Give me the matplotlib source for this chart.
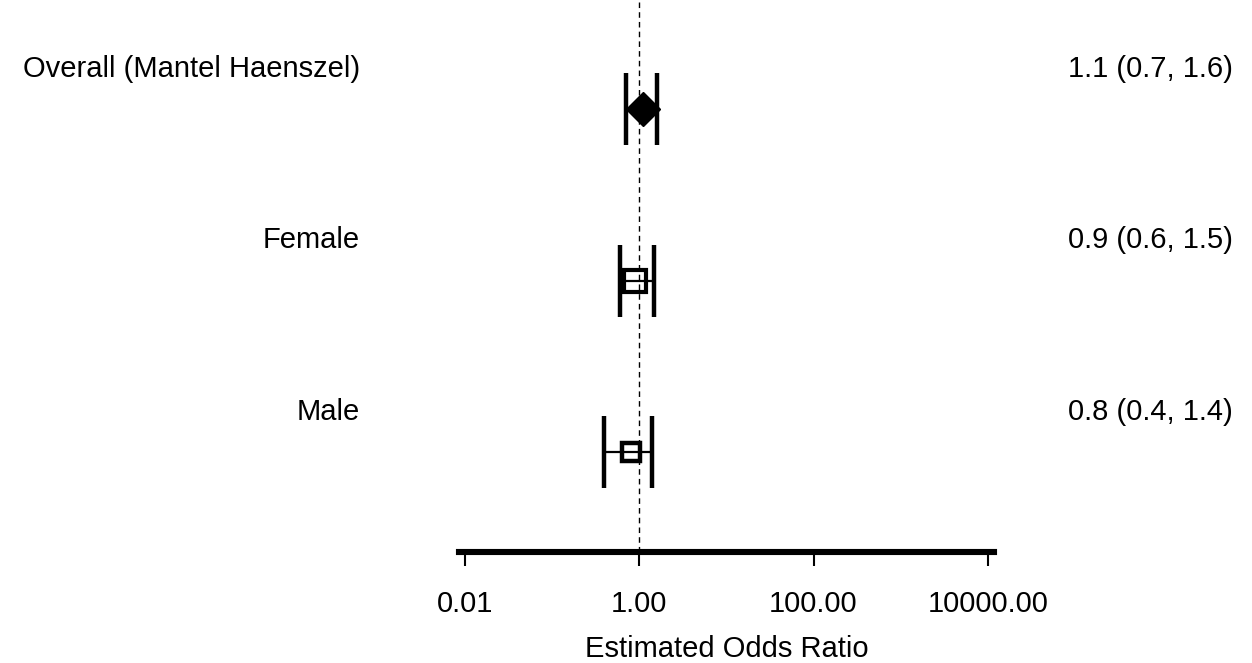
import matplotlib
matplotlib.use("Agg")
import matplotlib.pyplot as plt
import matplotlib.transforms as mtransforms

plt.rcParams['font.family'] = ['Liberation Sans', 'DejaVu Sans']

groups = ["Overall (Mantel Haenszel)", "Female", "Male"]
odds = [1.1, 0.9, 0.8]
lower = [0.7, 0.6, 0.4]
upper = [1.6, 1.5, 1.4]
ci_text = ["1.1 (0.7, 1.6)", "0.9 (0.6, 1.5)", "0.8 (0.4, 1.4)"]
ypos = [3, 2, 1]
xticks = [0.01, 1, 100, 10000]
xticklabels = ["0.01", "1.00", "100.00", "10000.00"]

fig = plt.figure(figsize=(12.52, 6.63), dpi=100)
ax = fig.add_axes([459.5 / 1252, 111 / 663, 534.5 / 1252, 552 / 663])
ax.set_xscale("log")
ax.set_xlim(10 ** -2.06, 10 ** 4.07)
ax.set_ylim(0.417, 3.636)

# reference line at OR = 1
ax.axvline(1, color="black", lw=1, ls=(0, (4, 3)), zorder=1)

cap_h = 0.21
for i in range(len(groups)):
    y = ypos[i]
    ax.plot([lower[i], upper[i]], [y, y], color="black", lw=1.6, zorder=2)
    ax.vlines([lower[i], upper[i]], y - cap_h, y + cap_h, color="black", lw=3.2, zorder=2)
    if i == 0:
        ax.plot(odds[i], y, marker="D", ms=17, color="black", zorder=3)
    elif i == 1:
        ax.plot(odds[i], y, marker="s", ms=16.5, mfc="none", mec="black", mew=3, zorder=3)
    else:
        ax.plot(odds[i], y, marker="s", ms=12.5, mfc="none", mec="black", mew=3.2, zorder=3)

# labels on both sides
trans = mtransforms.blended_transform_factory(fig.transFigure, ax.transData)
for i in range(len(groups)):
    ax.text(360 / 1252, ypos[i] + 0.235, groups[i], transform=trans,
            ha="right", va="center", fontsize=21, clip_on=False)
    ax.text(1068 / 1252, ypos[i] + 0.235, ci_text[i], transform=trans,
            ha="left", va="center", fontsize=21, clip_on=False)

for s in ["top", "left", "right"]:
    ax.spines[s].set_visible(False)
ax.spines["bottom"].set_linewidth(4.4)
ax.set_yticks([])
ax.set_xticks(xticks)
ax.set_xticklabels(xticklabels, fontsize=21)
ax.minorticks_off()
ax.tick_params(axis="x", length=10, width=1.5, pad=17)
ax.set_xlabel("Estimated Odds Ratio", fontsize=21)
ax.xaxis.set_label_coords(0.5, -0.175)
ax.xaxis.label.set_va("center")

fig.savefig("out.png", dpi=100)
